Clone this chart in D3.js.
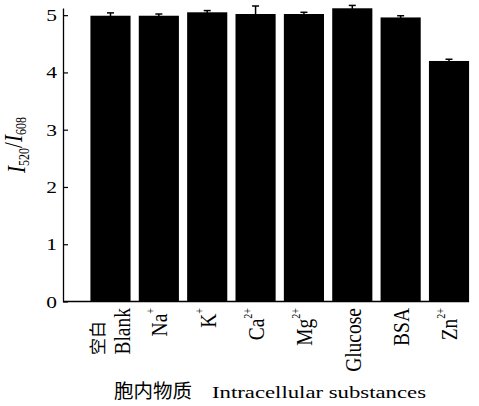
<!DOCTYPE html>
<html>
<head>
<meta charset="utf-8">
<script src="https://cdn.jsdelivr.net/npm/d3@7"></script>
<style>
  html, body { margin: 0; padding: 0; background: #fff; }
  svg { display: block; }
  text { font-family: "Liberation Serif", "Times New Roman", serif; fill: #000; }
  .cjk { font-family: "Noto Sans CJK SC", sans-serif; }
</style>
</head>
<body>
<svg id="chart" width="479" height="406"></svg>
<script>
// Fluorescence ratio I520/I608 in the presence of intracellular substances
const categories = ["Blank", "Na", "K", "Ca", "Mg", "Glucose", "BSA", "Zn"];
const superscripts = ["", "+", "+", "2+", "2+", "", "", "2+"];
const ratios = [4.99, 4.99, 5.05, 5.02, 5.02, 5.12, 4.96, 4.20];
const errors = [0.05, 0.03, 0.03, 0.14, 0.03, 0.05, 0.03, 0.03];
const yTicks = [0, 1, 2, 3, 4, 5];

const svg = d3.select("#chart");
const sx = 1.3; // horizontal widening of the Latin lettering

const x = d3.scaleBand()
  .domain(categories)
  .range([63, 496.5])
  .paddingInner(0.17)
  .paddingOuter(0.567);

const y = d3.scaleLinear()
  .domain([0, 5.125])
  .range([301.5, 8]);

// bars
svg.append("g").selectAll("rect")
  .data(categories)
  .join("rect")
  .attr("x", d => x(d))
  .attr("width", x.bandwidth())
  .attr("y", (d, i) => y(ratios[i]))
  .attr("height", (d, i) => y(0) - y(ratios[i]))
  .attr("fill", "#000");

// error bars
const eb = svg.append("g").attr("stroke", "#000").attr("stroke-width", 1.5);
categories.forEach((c, i) => {
  const cx = x(c) + x.bandwidth() / 2;
  eb.append("line").attr("x1", cx).attr("x2", cx)
    .attr("y1", y(ratios[i] - errors[i])).attr("y2", y(ratios[i] + errors[i]));
  eb.append("line").attr("x1", cx - 3.5).attr("x2", cx + 3.5)
    .attr("y1", y(ratios[i] + errors[i])).attr("y2", y(ratios[i] + errors[i]));
});

// y axis with inward ticks
const yAxis = svg.append("g")
  .attr("transform", "translate(63,0)")
  .call(d3.axisLeft(y).tickValues(yTicks).tickSizeInner(-5).tickSizeOuter(0).tickPadding(6).tickFormat(d3.format("d")));
yAxis.select(".domain").attr("stroke", "#000").attr("stroke-width", 1.3);
yAxis.selectAll(".tick line").attr("stroke", "#000").attr("stroke-width", 1.2);
yAxis.selectAll(".tick text")
  .attr("font-family", "Liberation Serif, serif")
  .attr("font-size", 16.5)
  .attr("x", null).attr("dy", null)
  .attr("text-anchor", "end")
  .attr("transform", d => `translate(-6,${5.5}) scale(${sx},1)`);

// x axis line
const xEnd = x(categories[categories.length - 1]) + x.bandwidth();
svg.append("line")
  .attr("x1", 63).attr("x2", xEnd)
  .attr("y1", y(0)).attr("y2", y(0))
  .attr("stroke", "#000").attr("stroke-width", 1.3);

// category labels, rotated
const lx = svg.append("g");
categories.forEach((c, i) => {
  const cx = x(c) + x.bandwidth() / 2 + 1;
  const off = c === "Blank" ? 11 : 0;
  const t = lx.append("text")
    .attr("transform", `translate(${cx + off},308) scale(1.15,1) rotate(-90)`)
    .attr("text-anchor", "end")
    .attr("dy", "0.33em")
    .attr("font-size", 19.5);
  t.append("tspan").text(c);
  if (superscripts[i]) {
    t.append("tspan").attr("font-size", 10).attr("dy", "-1.05em").text(superscripts[i]);
  }
});
// Chinese name of the blank group
lx.append("text")
  .attr("class", "cjk")
  .attr("transform", `translate(${x("Blank") + x.bandwidth() / 2 - 13},355) rotate(-90)`)
  .attr("text-anchor", "start")
  .attr("dy", "0.38em")
  .attr("font-size", 17)
  .text("空白");

// x axis title
const xt = svg.append("g").attr("transform", "translate(0,398)");
xt.append("text").attr("class", "cjk")
  .attr("x", 114).attr("font-size", 19.5).text("胞内物质");
xt.append("text")
  .attr("transform", `translate(212,0) scale(${sx},1)`)
  .attr("font-size", 17.5)
  .text("Intracellular substances");

// y axis title I520/I608
const yt = svg.append("text")
  .attr("transform", `translate(25,145) scale(1.2,1) rotate(-90)`)
  .attr("text-anchor", "middle")
  .attr("font-size", 21);
yt.append("tspan").attr("font-style", "italic").text("I");
yt.append("tspan").attr("font-size", 12).attr("dy", "0.3em").text("520");
yt.append("tspan").attr("dy", "-0.3em").attr("font-size", 21).text("/");
yt.append("tspan").attr("font-style", "italic").text("I");
yt.append("tspan").attr("font-size", 12).attr("dy", "0.3em").text("608");
</script>
</body>
</html>
